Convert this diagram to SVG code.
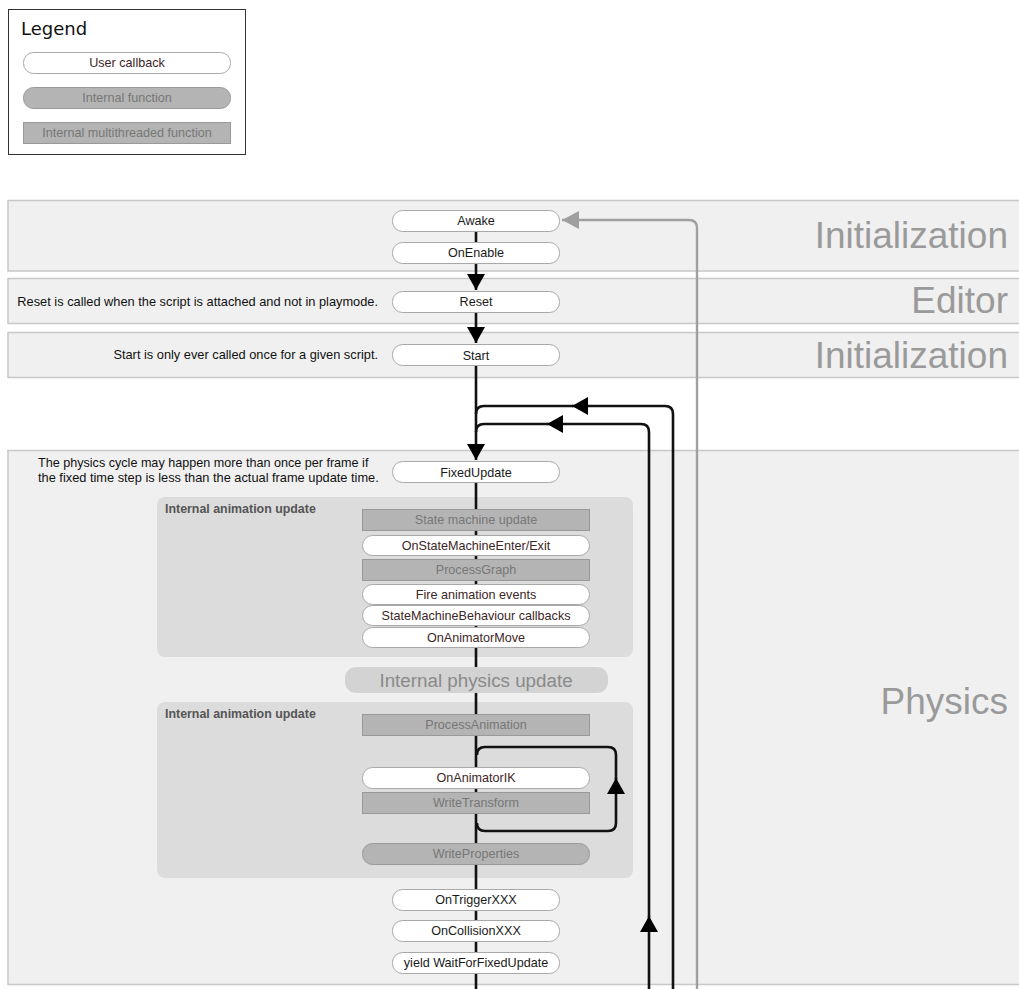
<svg xmlns="http://www.w3.org/2000/svg" width="1019" height="989" viewBox="0 0 1019 989">
  <style>
    text { font-family: "Liberation Sans", Arial, sans-serif; }
    .band { fill: #f0f0f0; stroke: #c8c8c8; stroke-width: 1.5; }
    .phase { font-size: 37px; fill: #9a9a9a; text-anchor: end; }
    .note { font-size: 12.8px; fill: #111; }
    .grp { fill: #dcdcdc; }
    .grpt { font-size: 12.4px; font-weight: bold; fill: #555; }
    .cb { fill: #fff; stroke: #a8a8a8; stroke-width: 1; }
    .fn { fill: #b4b4b4; stroke: #999; stroke-width: 1; }
    .mt { fill: #b4b4b4; stroke: #999; stroke-width: 1; }
    .t { font-size: 12.6px; text-anchor: middle; }
    .tc { fill: #1a1a1a; }
    .tb { fill: #3e2626; }
    .tf { fill: #777; }
    .line { fill: none; stroke: #111; stroke-width: 2.6; }
    .gline { fill: none; stroke: #a0a0a0; stroke-width: 2.4; }
  </style>
  <defs>
    <marker id="arr" viewBox="0 0 16 18" refX="16" refY="9" markerWidth="16" markerHeight="18" markerUnits="userSpaceOnUse" orient="auto">
      <path d="M0,0 L16,9 L0,18 z" fill="#000"/>
    </marker>
    <marker id="garr" viewBox="0 0 17 18" refX="17" refY="9" markerWidth="17" markerHeight="18" markerUnits="userSpaceOnUse" orient="auto">
      <path d="M0,0 L17,9 L0,18 z" fill="#a0a0a0"/>
    </marker>
  </defs>

  <rect x="0" y="0" width="1019" height="989" fill="#fff"/>

  <!-- Legend -->
  <g id="legend">
    <rect x="8.5" y="9.5" width="237" height="145" fill="#fff" stroke="#333" stroke-width="1"/>
    <text x="21" y="35" style="font-family:'DejaVu Sans',sans-serif;font-size:18px" fill="#111">Legend</text>
    <rect class="cb" x="23.5" y="52.5" width="207" height="21" rx="10"/>
    <text class="t tb" x="127" y="67">User callback</text>
    <rect class="fn" x="23.5" y="87.5" width="207" height="21" rx="10"/>
    <text class="t tf" x="127" y="102">Internal function</text>
    <rect class="mt" x="23.5" y="122.5" width="207" height="21"/>
    <text class="t tf" x="127" y="137">Internal multithreaded function</text>
  </g>

  <!-- Phase bands -->
  <g id="band-init">
    <rect class="band" x="8" y="200.5" width="1030" height="70.5"/>
    <text class="phase" x="1008" y="248">Initialization</text>
  </g>
  <g id="band-editor">
    <rect class="band" x="8" y="278.5" width="1030" height="45"/>
    <text class="phase" x="1008" y="313">Editor</text>
    <text class="note" x="378" y="306" text-anchor="end">Reset is called when the script is attached and not in playmode.</text>
  </g>
  <g id="band-start">
    <rect class="band" x="8" y="332.5" width="1030" height="45"/>
    <text class="phase" x="1008" y="368">Initialization</text>
    <text class="note" x="378" y="359" text-anchor="end">Start is only ever called once for a given script.</text>
  </g>
  <g id="band-physics">
    <rect class="band" x="8" y="450.5" width="1030" height="534"/>
    <text class="phase" x="1008" y="714">Physics</text>
    <text class="note" x="38" y="467" style="font-size:12.6px">The physics cycle may happen more than once per frame if</text>
    <text class="note" x="38" y="482">the fixed time step is less than the actual frame update time.</text>
  </g>

  <!-- Animation / physics sub-steps -->
  <g id="anim-update-1">
    <rect class="grp" x="157" y="497" width="476" height="160" rx="8"/>
    <text class="grpt" x="165" y="513">Internal animation update</text>
  </g>
  <g id="anim-update-2">
    <rect class="grp" x="157" y="702" width="476" height="176" rx="8"/>
    <text class="grpt" x="165" y="718">Internal animation update</text>
  </g>

  <!-- Connectors -->
  <g id="connectors">
    <path class="line" d="M476 231 L476 242"/>
    <path class="line" d="M476 263 L476 290" marker-end="url(#arr)"/>
    <path class="line" d="M476 312 L476 343" marker-end="url(#arr)"/>
    <path class="line" d="M476 366 L476 460" marker-end="url(#arr)"/>
    <path class="line" d="M476 483 L476 989"/>
    <!-- outer loop back to FixedUpdate -->
    <path class="line" d="M673 989 L673 414 Q673 406 665 406 L572 406" marker-end="url(#arr)"/>
    <path class="line" d="M573 406 L484 406 Q476 406 476 414"/>
    <!-- inner loop back to FixedUpdate -->
    <path class="line" d="M649 989 L649 916" marker-end="url(#arr)"/>
    <path class="line" d="M649 917 L649 432 Q649 424 641 424 L547 424" marker-end="url(#arr)"/>
    <path class="line" d="M548 424 L484 424 Q476 424 476 432"/>
    <!-- IK pass loop -->
    <path class="line" d="M477 823 Q477 831 485 831 L608 831 Q616 831 616 823 L616 778" marker-end="url(#arr)"/>
    <path class="line" d="M616 779 L616 755 Q616 747 608 747 L485 747 Q477 747 477 755"/>
    <!-- return to Awake -->
    <path class="gline" d="M697 989 L697 228 Q697 220 689 220 L562 220" marker-end="url(#garr)"/>
  </g>

  <!-- Nodes -->
  <g id="awake"><rect class="cb" x="392.5" y="210.5" width="167" height="21" rx="10"/><text class="t tc" x="476" y="225">Awake</text></g>
  <g id="onenable"><rect class="cb" x="392.5" y="242.5" width="167" height="21" rx="10"/><text class="t tc" x="476" y="257">OnEnable</text></g>
  <g id="reset"><rect class="cb" x="392.5" y="291.5" width="167" height="21" rx="10"/><text class="t tc" x="476" y="306">Reset</text></g>
  <g id="start"><rect class="cb" x="392.5" y="344.5" width="167" height="21" rx="10"/><text class="t tc" x="476" y="359.5">Start</text></g>
  <g id="fixedupdate"><rect class="cb" x="392.5" y="461.5" width="167" height="21" rx="10"/><text class="t tc" x="476" y="476.5">FixedUpdate</text></g>

  <g id="state-machine-update"><rect class="mt" x="362.5" y="509.5" width="227" height="21"/><text class="t tf" x="476" y="524">State machine update</text></g>
  <g id="onstatemachineenterexit"><rect class="cb" x="362.5" y="535.5" width="227" height="20" rx="10"/><text class="t tb" x="476" y="550">OnStateMachineEnter/Exit</text></g>
  <g id="processgraph"><rect class="mt" x="362.5" y="559.5" width="227" height="21"/><text class="t tf" x="476" y="574">ProcessGraph</text></g>
  <g id="fire-animation-events"><rect class="cb" x="362.5" y="584.5" width="227" height="20" rx="10"/><text class="t tb" x="476" y="599">Fire animation events</text></g>
  <g id="statemachinebehaviour-callbacks"><rect class="cb" x="362.5" y="605.5" width="227" height="20" rx="10"/><text class="t tb" x="476" y="620">StateMachineBehaviour callbacks</text></g>
  <g id="onanimatormove"><rect class="cb" x="362.5" y="627.5" width="227" height="20" rx="10"/><text class="t tb" x="476" y="642">OnAnimatorMove</text></g>

  <g id="internal-physics-update">
    <rect x="345" y="667" width="263" height="26" rx="11" fill="#d3d3d3"/>
    <text x="476" y="687" text-anchor="middle" style="font-size:18.8px" fill="#8a8a8a">Internal physics update</text>
  </g>

  <g id="processanimation"><rect class="mt" x="362.5" y="714.5" width="227" height="21"/><text class="t tf" x="476" y="729">ProcessAnimation</text></g>
  <g id="onanimatorik"><rect class="cb" x="362.5" y="767.5" width="227" height="21" rx="10"/><text class="t tb" x="476" y="782">OnAnimatorIK</text></g>
  <g id="writetransform"><rect class="mt" x="362.5" y="792.5" width="227" height="21"/><text class="t tf" x="476" y="807">WriteTransform</text></g>
  <g id="writeproperties"><rect class="fn" x="362.5" y="843.5" width="227" height="21" rx="10"/><text class="t tf" x="476" y="858">WriteProperties</text></g>

  <g id="ontriggerxxx"><rect class="cb" x="392.5" y="889.5" width="167" height="21" rx="10"/><text class="t tc" x="476" y="904">OnTriggerXXX</text></g>
  <g id="oncollisionxxx"><rect class="cb" x="392.5" y="920.5" width="167" height="21" rx="10"/><text class="t tc" x="476" y="935">OnCollisionXXX</text></g>
  <g id="yield-waitforfixedupdate"><rect class="cb" x="392.5" y="952.5" width="167" height="21" rx="10"/><text class="t tc" x="476" y="967">yield WaitForFixedUpdate</text></g>
</svg>
